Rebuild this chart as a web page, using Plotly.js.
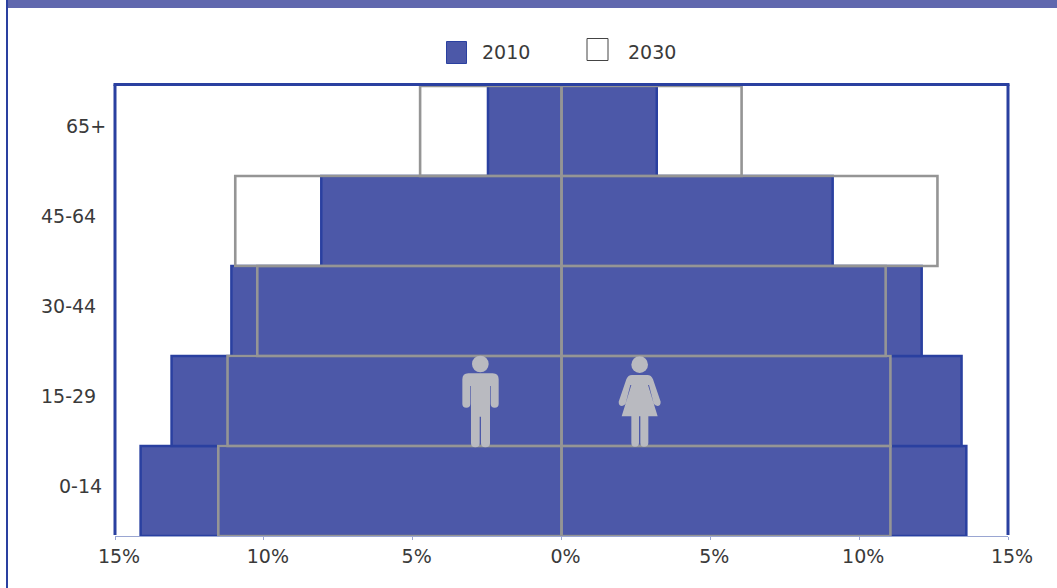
<!DOCTYPE html>
<html>
<head>
<meta charset="utf-8">
<script src="https://cdn.plot.ly/plotly-3.0.1.min.js"></script>
<style>html,body{margin:0;padding:0;background:#fff}#chart{width:1057px;height:588px}</style>
</head>
<body>
<div id="chart"></div>
<script>
// Age groups, oldest at the top; shares of population in percent
const ageGroups = ['0-14', '15-29', '30-44', '45-64', '65+'];
const male2010 = [14.14, 13.1, 11.09, 8.07, 2.47];
const female2010 = [13.6, 13.44, 12.1, 9.11, 3.2];
const male2030 = [11.53, 11.22, 10.22, 10.96, 4.75];
const female2030 = [11.05, 11.05, 10.89, 12.63, 6.05];
const tickValues = [-15, -10, -5, 0, 5, 10, 15];
const tickLabels = ['15%', '10%', '5%', '0%', '5%', '10%', '15%'];
const ageLabelShift = [-11, -17, -17, -17, -7];

const W = 1057, H = 588, L = 115, R = 1008, T = 86, B = 536;
const FONT = '"DejaVu Sans", sans-serif';
const TEXT = '#3a3a3a', BLUE = '#2a40a0', FILL = '#4c58a8', GREY = '#959595', ICON = '#b9bac0';
const px = v => (v - L) / (R - L);
const py = v => (B - v) / (B - T);
const neg = a => a.map(v => -v);

function bar(x, name, color, line, width) {
  return {
    type: 'bar', orientation: 'h', y: ageGroups, x, name, showlegend: false,
    width: 1, hoverinfo: 'x+y',
    marker: {color, line: {color: line, width}}
  };
}

const traces = [
  bar(neg(male2010), '2010', FILL, BLUE, 2.5),
  bar(female2010, '2010', FILL, BLUE, 2.5),
  bar(neg(male2030), '2030', 'rgba(0,0,0,0)', GREY, 2.6),
  bar(female2030, '2030', 'rgba(0,0,0,0)', GREY, 2.6)
];

// Page furniture, plot frame and legend swatches in pixel-derived paper coordinates
function rect(x0, y0, x1, y1, fill, line, width) {
  return {
    type: 'rect', xref: 'paper', yref: 'paper', layer: 'above',
    x0: px(x0), x1: px(x1), y0: py(y0), y1: py(y1),
    fillcolor: fill, line: {color: line || fill, width: width === undefined ? 0 : width}
  };
}
function seg(x0, y0, x1, y1) {
  return {
    type: 'line', xref: 'paper', yref: 'paper', layer: 'above',
    x0: px(x0), x1: px(x1), y0: py(y0), y1: py(y1),
    line: {color: BLUE, width: 3}
  };
}
const shapes = [
  rect(6, 0, 1057, 8, '#6068ae'),
  rect(6, 0, 8, 588, BLUE),
  seg(113.5, 84.5, 1009.5, 84.5),
  seg(115, 84.5, 115, 535),
  seg(1008, 84.5, 1008, 535),
  rect(446.5, 41.5, 466.5, 63.5, FILL, BLUE, 1),
  rect(587, 38.5, 608, 60.5, '#ffffff', '#444444', 1)
];

function label(text, x, y, anchor) {
  return {
    text, xref: 'paper', yref: 'paper', x: px(x), y: py(y), showarrow: false,
    xanchor: anchor, yanchor: 'middle', font: {family: FONT, size: 19, color: TEXT}
  };
}
const annotations = [label('2010', 480, 52, 'left'), label('2030', 626, 52, 'left')]
  .concat(ageGroups.map((g, i) => ({
    text: g, xref: 'paper', yref: 'y', x: 0, y: g, xanchor: 'right', yanchor: 'middle',
    xshift: ageLabelShift[i], yshift: 5, showarrow: false,
    font: {family: FONT, size: 19, color: TEXT}
  })));

// Pictograms for the male and female halves
function svg(viewBox, w, h, d, cx, cy) {
  const s = `<svg xmlns="http://www.w3.org/2000/svg" width="${w}" height="${h}" viewBox="${viewBox}">` +
    `<circle cx="${cx}" cy="${cy}" r="25" fill="${ICON}"/><path d="${d}" fill="${ICON}"/></svg>`;
  return 'data:image/svg+xml;base64,' + btoa(s);
}
const manPath = 'M115 100H188Q206 100 206 118V192Q206 203 194 203Q182 203 182 192V138H180V310Q180 322 166 322Q153 322 153 310V230H149V310Q149 322 136 322Q123 322 123 310V138H121V192Q121 203 109 203Q97 203 97 192V118Q97 100 115 100Z';
const womanPath = 'M606 105H652Q664 105 669 118L692 185Q692 198 682 198Q674 198 671 190L657 135H654L683 229H655V308Q655 320 642 320Q631 320 631 308V229H627V308Q627 320 615 320Q604 320 604 308V229H575L604 135H601L587 190Q584 198 576 198Q566 198 566 185L589 118Q594 105 606 105Z';
function pictogram(source, left, top, w, h) {
  return {
    source, xref: 'paper', yref: 'paper', x: px(left), y: py(top),
    sizex: w / (R - L), sizey: h / (B - T), xanchor: 'left', yanchor: 'top',
    sizing: 'stretch', layer: 'above'
  };
}
const images = [
  pictogram(svg('95 45 113 280', 113, 280, manPath, 151, 72), 461.67, 355, 37.67, 93.33),
  pictogram(svg('560 45 138 280', 138, 280, womanPath, 629, 74), 616.67, 355, 46, 93.33)
];

const layout = {
  width: W, height: H,
  margin: {l: L, r: W - R, t: T, b: H - B, pad: 0},
  paper_bgcolor: '#ffffff', plot_bgcolor: '#ffffff',
  barmode: 'overlay', bargap: 0, showlegend: false,
  font: {family: FONT, size: 19, color: TEXT},
  xaxis: {
    range: [-15, 15], tickmode: 'array', tickvals: tickValues, ticktext: tickLabels,
    ticks: 'outside', ticklen: 3, tickwidth: 1, tickcolor: '#9aa6d2', ticklabelshift: 4,
    showgrid: false, zeroline: false, showline: true, linecolor: '#9aa6d2', linewidth: 1,
    tickfont: {family: FONT, size: 19, color: TEXT}
  },
  yaxis: {
    type: 'category', categoryorder: 'array', categoryarray: ageGroups, range: [-0.5, 4.5],
    showticklabels: false, ticks: '', showgrid: false, zeroline: false, showline: false
  },
  shapes, annotations, images
};

Plotly.newPlot('chart', traces, layout, {displayModeBar: false, staticPlot: true});
</script>
</body>
</html>
